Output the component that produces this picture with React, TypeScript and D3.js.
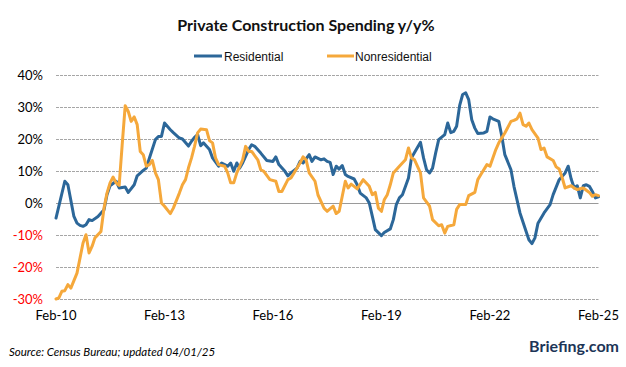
import * as d3 from "d3";

// months counted from Feb-2010, values in % y/y
const resMonths = [
  0, 3, 4, 6, 7, 8, 9, 10, 11, 12, 14, 16, 17, 18, 20, 21, 23, 24, 26, 27, 29, 30, 31, 33, 34, 35, 36, 38, 39, 41,
  42, 44, 45, 46, 47, 48, 49, 51, 52, 54, 55, 57, 58, 59, 60, 61, 62, 64, 65, 66, 68, 70, 72, 73, 74, 76, 77, 78,
  80, 81, 82, 84, 85, 86, 88, 89, 90, 91, 92, 93, 94, 95, 96, 97, 99, 100, 101, 103, 104, 105, 106, 108, 109, 111,
  112, 113, 114, 115, 117, 118, 119, 121, 122, 123, 124, 125, 126, 127, 129, 130, 131, 132, 133, 134, 135, 136, 137,
  138, 139, 140, 142, 143, 144, 145, 147, 148, 149, 151, 152, 154, 156, 157, 158, 159, 160, 162, 164, 165, 167, 169,
  170, 171, 172, 173, 174, 175, 176, 177, 178, 179, 180,
];
const resValues = [
  -4.7, 6.8, 5.7, -4.2, -6.3, -7.0, -7.3, -6.8, -5.2, -5.5, -4.2, -2.1, 2.6, 5.4, 6.8, 4.7, 5.0, 3.3, 5.7, 8.5, 10.2,
  10.9, 14.0, 19.8, 20.8, 20.8, 25.0, 22.9, 22.0, 20.3, 20.0, 17.8, 19.3, 20.5, 21.4, 17.9, 18.8, 16.7, 14.1, 11.5,
  12.5, 11.5, 12.5, 9.9, 12.5, 10.9, 12.5, 16.7, 18.2, 17.7, 15.6, 13.3, 13.0, 14.4, 12.0, 9.9, 8.5, 9.4, 10.9, 13.0,
  12.5, 15.1, 13.0, 14.4, 13.5, 13.8, 13.0, 12.7, 8.9, 11.5, 10.6, 11.7, 8.9, 8.3, 7.5, 5.7, 3.1, 1.6, 0.0, -4.2,
  -8.3, -10.2, -9.2, -8.1, -5.2, -0.5, 1.6, 2.6, 7.8, 14.1, 15.8, 19.0, 14.1, 10.4, 9.4, 10.9, 15.6, 19.8, 21.4,
  25.0, 22.0, 22.4, 24.0, 30.5, 33.9, 34.4, 32.3, 26.0, 23.4, 21.7, 21.9, 22.4, 26.9, 26.3, 25.5, 20.8, 15.1, 10.4,
  5.2, -3.1, -8.9, -11.5, -12.7, -10.9, -6.3, -3.1, -0.5, 2.6, 7.3, 9.4, 11.5, 7.5, 4.7, 5.4, 1.6, 5.4, 5.7, 5.2,
  3.6, 1.6, 1.9,
];

const nonresMonths = [
  0, 1, 2, 3, 4, 5, 7, 9, 10, 11, 12, 13, 15, 16, 17, 18, 19, 20, 21, 22, 23, 24, 25, 26, 27, 28, 29, 30, 31, 32, 33,
  34, 35, 36, 38, 39, 41, 42, 43, 44, 45, 46, 47, 48, 50, 51, 52, 53, 54, 56, 57, 58, 59, 60, 62, 63, 64, 65, 67,
  68, 69, 71, 73, 74, 75, 77, 78, 79, 81, 82, 83, 84, 86, 87, 89, 90, 92, 93, 94, 95, 96, 97, 98, 99, 100, 102, 104,
  105, 106, 107, 108, 109, 110, 111, 112, 114, 116, 117, 118, 119, 121, 122, 124, 125, 127, 128, 129, 130, 132, 133,
  134, 136, 137, 139, 140, 141, 143, 144, 146, 147, 149, 151, 152, 153, 154, 155, 156, 157, 158, 160, 161, 162, 163,
  165, 166, 167, 168, 169, 171, 172, 173, 175, 176, 177, 178, 179, 180,
];
const nonresValues = [
  -30.0, -29.7, -27.6, -27.4, -25.5, -26.6, -21.9, -12.5, -9.9, -15.6, -13.5, -10.9, -8.9, -1.6, 3.1, 6.3, 8.1, 6.3,
  5.5, 18.0, 30.4, 28.6, 25.5, 26.9, 24.5, 16.1, 15.1, 11.5, 12.0, 13.3, 9.4, 7.3, 0.0, -1.0, -3.3, -1.6, 3.1, 5.7,
  7.3, 11.0, 14.1, 17.7, 21.9, 23.1, 22.9, 19.5, 18.8, 14.1, 12.0, 11.5, 9.4, 6.3, 6.3, 9.4, 13.5, 17.7, 16.1, 16.1,
  13.5, 10.4, 9.9, 7.3, 6.8, 3.6, 3.6, 7.3, 7.8, 9.4, 12.5, 14.4, 13.5, 9.4, 6.8, 2.5, -1.6, -2.6, -1.0, -3.3, -2.6,
  2.1, 6.8, 4.7, 5.9, 5.2, 4.4, 7.3, 5.2, 2.6, 3.3, -1.6, -2.6, 1.0, 2.6, 5.7, 9.4, 11.5, 13.5, 17.2, 14.1, 13.5, 9.4,
  1.6, -1.0, -5.2, -7.1, -6.8, -9.4, -7.3, -6.8, -2.0, -0.5, -0.5, 2.3, 3.3, 7.3, 8.9, 12.0, 11.5, 16.7, 18.8, 21.9,
  25.5, 25.8, 26.3, 28.1, 24.5, 24.0, 25.0, 22.9, 20.3, 16.7, 17.2, 14.4, 13.3, 11.3, 10.6, 7.8, 4.7, 5.4, 4.7, 4.2,
  4.7, 4.0, 3.3, 2.1, 2.6, 2.3,
];

const yTicks = [-30, -20, -10, 0, 10, 20, 30, 40];
const xTickLabels = ["Feb-10", "Feb-13", "Feb-16", "Feb-19", "Feb-22", "Feb-25"];

const W = 626;
const H = 367;
const PLOT = { left: 56, right: 598.5, top: 75, bottom: 299 };
const BLUE = "#2C6799";
const ORANGE = "#F5A83B";
const AXIS_FONT = "Lato, 'Open Sans', sans-serif";

const monthDate = (m: number) => new Date(2010, 1 + m, 1);

type Pt = { date: Date; value: number };

const toPoints = (months: number[], values: number[]): Pt[] =>
  months.map((m, i) => ({ date: monthDate(m), value: values[i] }));

export default function App() {
  const x = d3
    .scaleTime()
    .domain([monthDate(0), monthDate(180)])
    .range([PLOT.left, PLOT.right]);
  const y = d3.scaleLinear().domain([-30, 40]).range([PLOT.bottom, PLOT.top]);

  const line = d3
    .line<Pt>()
    .x((d) => x(d.date))
    .y((d) => y(d.value));

  const series = [
    { name: "Residential", color: BLUE, data: toPoints(resMonths, resValues) },
    { name: "Nonresidential", color: ORANGE, data: toPoints(nonresMonths, nonresValues) },
  ];

  const xTicks = xTickLabels.map((label, i) => ({ label, date: monthDate(i * 36) }));

  return (
    <svg
      width={W}
      height={H}
      style={{ position: "absolute", left: 0, top: 0, background: "#fff" }}
      xmlns="http://www.w3.org/2000/svg"
    >
      <text
        x={306}
        y={31}
        textAnchor="middle"
        fontFamily={AXIS_FONT}
        fontWeight="bold"
        fontSize={16}
        fill="#111"
      >
        Private Construction Spending y/y%
      </text>

      {/* legend */}
      <g fontFamily="'Liberation Sans', Arial, sans-serif" fontSize={12} fill="#111">
        <line x1={194} x2={222} y1={56} y2={56} stroke={BLUE} strokeWidth={3} />
        <text x={224} y={60.5}>Residential</text>
        <line x1={327} x2={354} y1={56} y2={56} stroke={ORANGE} strokeWidth={3} />
        <text x={355} y={60.5}>Nonresidential</text>
      </g>

      {/* grid */}
      <g>
        {yTicks.map((t) => (
          <line
            key={t}
            x1={PLOT.left}
            x2={PLOT.right}
            y1={Math.round(y(t)) + 0.5}
            y2={Math.round(y(t)) + 0.5}
            stroke={t === 0 ? "#9a9a9a" : "#a6a6a6"}
            strokeWidth={1}
            strokeDasharray={t === 0 ? undefined : "3,1"}
          />
        ))}
      </g>

      {/* y labels */}
      <g fontFamily={AXIS_FONT} fontSize={13}>
        {yTicks.map((t) => (
          <text
            key={t}
            x={43}
            y={y(t)}
            textAnchor="end"
            dominantBaseline="central"
            fill={t < 0 ? "#FF0000" : "#000"}
          >
            {`${t}%`}
          </text>
        ))}
      </g>

      {/* x labels */}
      <g fontFamily={AXIS_FONT} fontSize={13} fill="#000">
        {xTicks.map((t) => (
          <text key={t.label} x={x(t.date)} y={320} textAnchor="middle">
            {t.label}
          </text>
        ))}
      </g>

      {/* series */}
      {series.map((s) => (
        <path
          key={s.name}
          d={line(s.data) ?? undefined}
          fill="none"
          stroke={s.color}
          strokeWidth={3}
          strokeLinejoin="round"
          strokeLinecap="round"
        />
      ))}

      {/* footer */}
      <text x={9} y={356} fontFamily={AXIS_FONT} fontStyle="italic" fontSize={11.5} fill="#000">
        Source: Census Bureau; updated 04/01/25
      </text>
      <text
        x={619}
        y={352}
        textAnchor="end"
        fontFamily={AXIS_FONT}
        fontWeight="bold"
        fontSize={16}
        fill="#1d3557"
      >
        Briefing.com
      </text>
    </svg>
  );
}
